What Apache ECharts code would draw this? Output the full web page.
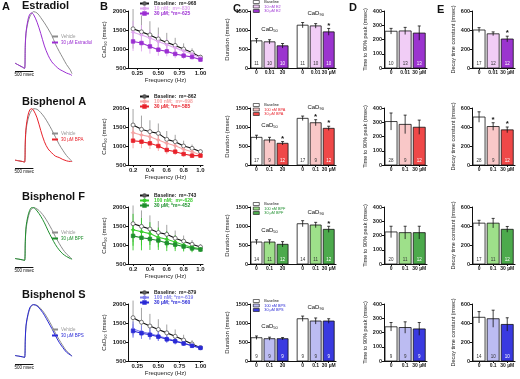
<!DOCTYPE html>
<html><head><meta charset="utf-8">
<script src="https://cdn.jsdelivr.net/npm/echarts@6/dist/echarts.min.js"></script>
<style>html,body{margin:0;padding:0;background:#fff}#c{width:520px;height:379px}</style>
</head><body><div id="c"></div>
<script>
// ---------------- DATA ----------------
const rowTitles = ['Estradiol', 'Bisphenol A', 'Bisphenol F', 'Bisphenol S'];
const panelLetters = ['A', 'B', 'C', 'D', 'E'];

// Panel A: normalized Ca transients (time in msec)
const traceTime = [0,100,200,260,280,300,350,400,450,500,600,700,800,900,1000,1100,1200,1300,1400,1500,1550];
const vehicleTrace = [
  [0.21,0.18,0.15,0.13,0.45,0.66,0.82,0.91,0.96,0.99,0.97,0.90,0.82,0.73,0.63,0.50,0.39,0.29,0.19,0.11,0.05],
  [0.21,0.20,0.19,0.18,0.45,0.66,0.82,0.91,0.96,0.99,0.98,0.93,0.86,0.77,0.67,0.56,0.45,0.36,0.28,0.22,0.19],
  [0.22,0.21,0.20,0.19,0.45,0.66,0.82,0.92,0.97,0.99,0.97,0.92,0.85,0.76,0.66,0.55,0.45,0.36,0.29,0.24,0.21],
  [0.22,0.21,0.20,0.19,0.45,0.66,0.82,0.92,0.97,0.99,0.98,0.93,0.86,0.77,0.67,0.56,0.46,0.37,0.29,0.24,0.21]
];
const drugTrace = [
  [0.21,0.18,0.15,0.13,0.50,0.68,0.86,0.95,0.97,0.95,0.83,0.66,0.47,0.33,0.23,0.17,0.12,0.09,0.06,0.04,0.02],
  [0.21,0.20,0.19,0.18,0.50,0.70,0.88,0.97,0.99,0.97,0.85,0.66,0.49,0.38,0.32,0.27,0.25,0.22,0.20,0.19,0.19],
  [0.22,0.21,0.20,0.19,0.48,0.70,0.86,0.95,0.99,0.99,0.94,0.86,0.76,0.64,0.53,0.43,0.35,0.29,0.25,0.22,0.21],
  [0.22,0.21,0.20,0.19,0.47,0.68,0.84,0.94,0.98,0.99,0.97,0.91,0.83,0.73,0.63,0.52,0.42,0.34,0.27,0.23,0.21]
];
const traceNames = [['Vehicle', '30 µM Estradiol'], ['Vehicle', '30 µM BPA'], ['Vehicle', '30 µM BPF'], ['Vehicle', '30 µM BPS']];
const scaleBarLabel = '500 msec';

// Panel B: CaD90 vs pacing frequency
const frequency = [0.2,0.3,0.4,0.5,0.6,0.7,0.8,0.9,1.0];
const freqTicks = [[0.25,0.5,0.75,1.0],[0.2,0.4,0.6,0.8,1.0],[0.2,0.4,0.6,0.8,1.0],[0.25,0.5,0.75,1.0]];
const cadBase = [
  [1531,1451,1371,1265,1174,1094,998,908,785],
  [1553,1439,1377,1333,1175,1114,1000,939,851],
  [1560,1490,1420,1330,1280,1180,1100,1020,950],
  [1640,1520,1420,1330,1240,1150,1050,950,850]
];
const cadBaseErr = [
  [520,430,360,300,250,200,150,110,60],
  [420,360,300,260,220,180,140,100,60],
  [480,420,360,300,250,200,150,110,70],
  [450,380,320,270,220,180,140,100,50]
];
const cadLow = [
  [1440,1370,1290,1200,1110,1030,950,870,770],
  [1351,1289,1246,1158,1070,1009,912,851,763],
  [1400,1350,1300,1200,1150,1080,1000,940,900],
  [1340,1270,1220,1160,1100,1030,970,910,845]
];
const cadLowErr = [
  [300,260,220,190,160,130,100,80,50],
  [250,220,190,160,130,110,90,70,40],
  [420,360,300,260,220,180,140,100,60],
  [200,170,150,130,110,90,70,60,40]
];
const cadHigh = [
  [1199,1157,1068,982,938,870,825,791,721],
  [1140,1114,1070,1000,895,851,789,746,746],
  [1240,1190,1160,1120,1050,1010,960,910,880],
  [1290,1230,1190,1140,1070,1020,960,900,845]
];
const cadHighErr = [
  [250,220,190,160,130,110,90,70,50],
  [200,170,150,130,110,90,70,60,40],
  [380,330,290,250,210,170,130,100,60],
  [180,150,130,110,90,80,60,50,40]
];
const cadLegend = [
  ['Baseline:  m=-968', '10 nM;  m=-830', '30 µM; *m=-625'],
  ['Baseline:  m=-862', '100 nM;  m=-698', '30 µM; *m=-585'],
  ['Baseline:  m=-743', '100 nM;  m=-628', '30 µM; *m=-452'],
  ['Baseline:  m=-879', '100 nM; *m=-619', '30 µM; *m=-560']
];

// Panels C, D, E: bar data  [baseline, low dose, high dose]
const doseLabels = [['0','0.01','30'],['0','0.1','30'],['0','0.1','30'],['0','0.1','30']];
const barLegend = [
  ['Baseline', '10 nM E2', '30 µM E2'],
  ['Baseline', '100 nM BPA', '30 µM BPA'],
  ['Baseline', '100 nM BPF', '30 µM BPF'],
  ['Baseline', '100 nM BPS', '30 µM BPS']
];
const cad50 = [[715,689,584],[728,658,571],[578,578,518],[613,587,587]];
const cad50Err = [[60,55,60],[55,70,45],[60,60,70],[45,40,30]];
const cad50Sig = [[0,0,0],[0,0,1],[0,0,0],[0,0,0]];
const cad90 = [[1127,1108,951],[1228,1112,965],[1060,1026,912],[1112,1052,1052]];
const cad90Err = [[70,60,90],[60,80,55],[80,70,80],[70,80,60]];
const cad90Sig = [[0,0,1],[0,1,1],[0,0,1],[0,0,0]];
const durN = [[11,10,10],[17,9,12],[14,11,12],[9,9,9]];

const ttp = [[258,260,245],[305,285,265],[225,220,220],[240,235,225]];
const ttpErr = [[20,25,50],[60,65,50],[40,45,45],[30,40,45]];
const ttpN = [[10,13,13],[28,9,12],[20,11,12],[9,9,9]];

const tau = [[400,360,305],[505,405,370],[430,430,365],[460,445,385]];
const tauErr = [[25,20,30],[55,40,30],[30,50,30],[60,90,70]];
const tauSig = [[0,0,1],[0,1,1],[0,0,0],[0,0,0]];
const tauN = [[17,12,12],[28,9,12],[17,11,12],[14,10,10]];

// ---------------- STYLE / LAYOUT ----------------
const F = 'Liberation Sans, Arial, Helvetica, sans-serif';
const rowBottom = [68, 165, 264, 361];
const plotH = 57;
const strong = ['#9b2fd2', '#e8222b', '#1f8f2e', '#2a2ad6'];
const light  = ['#dfa6ef', '#f5a3a3', '#38cc2c', '#8080ee'];
const barHigh = ['#9b34cf', '#ef4848', '#4caa4c', '#3a3ae0'];
const barLow  = ['#f1cdf6', '#f9c8c8', '#9ee08a', '#bcbcf2'];
const rowTitleTop = [0, 96, 191, 289];

const grids = [], xAxes = [], yAxes = [], series = [], legends = [], graphics = [];
function addGrid(g, x, y) {
  grids.push(g); const gi = grids.length - 1;
  x.gridIndex = gi; y.gridIndex = gi; xAxes.push(x); yAxes.push(y); return gi;
}
const axLine = { show: true, lineStyle: { color: '#111', width: 1 } };
const axTick = { show: true, length: 2, lineStyle: { color: '#111', width: 1 } };
const lbl = (fs) => ({ fontSize: fs, color: '#222', fontFamily: F, fontWeight: 'bold', margin: 2, formatter: v => String(v) });

function errRender(color) {
  return function (params, api) {
    const x = api.value(0), v = api.value(1), e = api.value(2);
    const a = api.coord([x, v - e]), b = api.coord([x, v + e]);
    return { type: 'line', shape: { x1: a[0], y1: a[1], x2: b[0], y2: b[1] }, style: { stroke: color, lineWidth: 0.9 } };
  };
}
function barRender(fill, txtColor, barW) {
  return function (params, api) {
    const x = api.value(0), v = api.value(1), e = api.value(2), n = api.value(3), sig = api.value(4);
    const p0 = api.coord([x, 0]), p1 = api.coord([x, v]);
    const pt = api.coord([x, v + e]), pb = api.coord([x, v - e]);
    const ch = [
      { type: 'rect', shape: { x: p0[0] - barW / 2, y: p1[1], width: barW, height: p0[1] - p1[1] }, style: { fill: fill, stroke: '#111', lineWidth: 0.8 } },
      { type: 'line', shape: { x1: p0[0], y1: pb[1], x2: p0[0], y2: pt[1] }, style: { stroke: '#111', lineWidth: 0.8 } },
      { type: 'line', shape: { x1: p0[0] - 1.5, y1: pt[1], x2: p0[0] + 1.5, y2: pt[1] }, style: { stroke: '#111', lineWidth: 0.8 } },
      { type: 'text', style: { text: String(n), x: p0[0], y: p0[1] - 2, align: 'center', verticalAlign: 'bottom', fontSize: 4.5, fill: txtColor, fontFamily: F } }
    ];
    if (sig) ch.push({ type: 'text', style: { text: '*', x: p0[0], y: pt[1] + 1, align: 'center', verticalAlign: 'bottom', fontSize: 8, fontWeight: 'bold', fill: '#111', fontFamily: F } });
    return { type: 'group', children: ch };
  };
}
function labelRender() {
  return function (params, api) {
    const p = api.coord([api.value(0), api.value(1)]);
    const sub = params.dataIndex === 0 ? '50' : '90';
    return { type: 'text', style: { text: 'CaD{s|' + sub + '}', x: p[0], y: p[1] - 3, align: 'center', verticalAlign: 'bottom',
      fontSize: 6, fill: '#111', fontFamily: F, rich: { s: { fontSize: 4, padding: [3, 0, 0, 0], fontFamily: F, fill: '#111' } } } };
  };
}

for (let r = 0; r < 4; r++) {
  const bot = rowBottom[r], top = bot - plotH;

  // ---- Panel A ----
  const ga = addGrid({ left: 15, width: 57, top: top, height: 66 },
    { type: 'value', min: 0, max: 1550, show: false },
    { type: 'value', min: 0, max: 1, show: false });
  series.push({ type: 'line', name: traceNames[r][0], xAxisIndex: ga, yAxisIndex: ga, showSymbol: false, symbol: 'none', smooth: 0.35,
    lineStyle: { color: '#8c8c8c', width: 1 }, itemStyle: { color: '#8c8c8c' },
    data: traceTime.map((t, i) => [t, vehicleTrace[r][i]]),
    markLine: { silent: true, symbol: 'none', lineStyle: { color: '#111', width: 1, type: 'solid' },
      label: { show: true, position: 'insideMiddleBottom', formatter: scaleBarLabel, fontSize: 4.5, color: '#111', fontFamily: F, distance: 1 },
      data: [[{ coord: [0, 0.08] }, { coord: [500, 0.08] }]] } });
  series.push({ type: 'line', name: traceNames[r][1], xAxisIndex: ga, yAxisIndex: ga, showSymbol: false, symbol: 'none', smooth: 0.35,
    lineStyle: { color: strong[r], width: 1 }, itemStyle: { color: strong[r] },
    data: traceTime.map((t, i) => [t, drugTrace[r][i]]) });
  legends.push({ orient: 'vertical', left: 52, top: top + 23, itemWidth: 6, itemHeight: 2, itemGap: 1, padding: 0,
    textStyle: { fontSize: 4.5, fontFamily: F, padding: [0, 0, 0, -2] },
    data: [{ name: traceNames[r][0], icon: 'rect', itemStyle: { color: '#8c8c8c' }, textStyle: { color: '#999' } },
           { name: traceNames[r][1], icon: 'rect', itemStyle: { color: strong[r] }, textStyle: { color: strong[r] } }] });

  // ---- Panel B ----
  const gb = addGrid({ left: 128, width: 75, top: top, height: plotH },
    { type: 'value', min: 0.14, max: 1.03, axisLine: axLine, axisTick: Object.assign({}, axTick, { customValues: freqTicks[r] }),
      axisLabel: Object.assign(lbl(6), { customValues: freqTicks[r], formatter: v => (r === 0 || r === 3) ? v.toFixed(2) : v.toFixed(1) }),
      splitLine: { show: false }, name: 'Frequency (Hz)', nameLocation: 'middle', nameGap: 9,
      nameTextStyle: { fontSize: 6, fontFamily: F, color: '#222' } },
    { type: 'value', min: 500, max: 2000, interval: 500, axisLine: axLine, axisTick: axTick, axisLabel: lbl(6), splitLine: { show: false },
      name: 'CaD{s|90} (msec)', nameLocation: 'middle', nameGap: 20,
      nameTextStyle: { fontSize: 6, fontFamily: F, color: '#222', rich: { s: { fontSize: 4, padding: [3, 0, 0, 0], fontFamily: F, color: '#222' } } } });
  const bSets = [
    { v: cadBase[r], e: cadBaseErr[r], line: '#111', err: '#9a9a9a', sym: 'circle', fill: '#fff', border: '#555', name: cadLegend[r][0] },
    { v: cadLow[r], e: cadLowErr[r], line: light[r], err: light[r], sym: 'diamond', fill: light[r], border: light[r], name: cadLegend[r][1] },
    { v: cadHigh[r], e: cadHighErr[r], line: strong[r], err: light[r], sym: 'rect', fill: strong[r], border: strong[r], name: cadLegend[r][2] }
  ];
  bSets.forEach((s, k) => {
    series.push({ type: 'custom', xAxisIndex: gb, yAxisIndex: gb, renderItem: errRender(s.err), z: 1, silent: true,
      data: frequency.map((f, i) => [f, s.v[i], s.e[i]]) });
  });
  bSets.forEach((s, k) => {
    series.push({ type: 'line', name: s.name, xAxisIndex: gb, yAxisIndex: gb, z: 3 + k, symbol: s.sym, symbolSize: k === 0 ? 4 : 3.5,
      lineStyle: { color: s.line, width: 1.1 }, itemStyle: { color: s.fill, borderColor: s.border, borderWidth: 0.8 },
      data: frequency.map((f, i) => [f, s.v[i]]) });
  });
  legends.push({ orient: 'vertical', left: 139, top: r === 0 ? 1 : top - 14, itemWidth: 9, itemHeight: 3, itemGap: 0, padding: 0,
    textStyle: { fontSize: 5, fontFamily: F, fontWeight: 'bold', lineHeight: 5 },
    data: bSets.map(s => ({ name: s.name, textStyle: { color: s === bSets[0] ? '#222' : s.line } })) });

  // ---- Panel C ----
  const cPos = [1, 2, 3, 4.54, 5.54, 6.54];
  const cLabels = doseLabels[r].concat(doseLabels[r].slice(0, 2), [doseLabels[r][2] + ' µM']);
  const gc = addGrid({ left: 250, width: 86, top: top, height: plotH },
    { type: 'value', min: 0.5, max: 7.1, axisLine: axLine, axisTick: Object.assign({}, axTick, { customValues: cPos }),
      axisLabel: Object.assign(lbl(5), { customValues: cPos, formatter: v => cLabels[cPos.findIndex(p => Math.abs(p - v) < 1e-6)] }),
      splitLine: { show: false } },
    { type: 'value', min: 0, max: 1500, interval: 500, axisLine: axLine, axisTick: axTick, axisLabel: lbl(5.5), splitLine: { show: false },
      name: 'Duration (msec)', nameLocation: 'middle', nameGap: 20, nameTextStyle: { fontSize: 6, fontFamily: F, color: '#222' } });
  const fills = ['#ffffff', barLow[r], barHigh[r]];
  const txtC = ['#333', '#333', '#fff'];
  for (let k = 0; k < 3; k++) {
    series.push({ type: 'custom', name: barLegend[r][k], xAxisIndex: gc, yAxisIndex: gc, itemStyle: { color: fills[k], borderColor: '#111' },
      renderItem: barRender(fills[k], txtC[k], 11), silent: true,
      data: [[cPos[k], cad50[r][k], cad50Err[r][k], durN[r][k], cad50Sig[r][k]],
             [cPos[k + 3], cad90[r][k], cad90Err[r][k], durN[r][k], cad90Sig[r][k]]] });
  }
  const top50 = Math.max(...cad50[r].map((v, i) => v + cad50Err[r][i]));
  const top90 = Math.max(...cad90[r].map((v, i) => v + cad90Err[r][i]));
  series.push({ type: 'custom', xAxisIndex: gc, yAxisIndex: gc, renderItem: labelRender(), silent: true,
    data: [[cPos[1], top50 + 80], [cPos[4], top90 + 60]] });
  legends.push({ orient: 'vertical', left: 253, top: r === 0 ? 0 : top - 5, itemWidth: 6, itemHeight: 3, itemGap: 0.5, padding: 0,
    textStyle: { fontSize: 3.8, fontFamily: F, lineHeight: 4 },
    data: barLegend[r].map((n, k) => ({ name: n, icon: 'rect', itemStyle: { color: fills[k], borderColor: '#111', borderWidth: 0.6 },
      textStyle: { color: k === 0 ? '#222' : strong[r] } })) });

  // ---- Panels D, E ----
  const dPos = [1, 2, 3];
  const dLabels = [doseLabels[r][0], doseLabels[r][1], doseLabels[r][2] + ' µM'];
  const mk = (left, max, interval, name, vals, errs, ns, sigs, nameGap) => {
    const g = addGrid({ left: left, width: 43, top: top, height: plotH },
      { type: 'value', min: 0.5, max: 3.55, axisLine: axLine, axisTick: Object.assign({}, axTick, { customValues: dPos }),
        axisLabel: Object.assign(lbl(5), { customValues: dPos, formatter: v => dLabels[Math.round(v) - 1] }), splitLine: { show: false } },
      { type: 'value', min: 0, max: max, interval: interval, axisLine: axLine, axisTick: axTick, axisLabel: lbl(5.5), splitLine: { show: false },
        name: name, nameLocation: 'middle', nameGap: nameGap, nameTextStyle: { fontSize: 5.5, fontFamily: F, color: '#222' } });
    for (let k = 0; k < 3; k++) {
      series.push({ type: 'custom', xAxisIndex: g, yAxisIndex: g, renderItem: barRender(fills[k], txtC[k], 12), silent: true,
        data: [[dPos[k], vals[k], errs[k], ns[k], sigs ? sigs[k] : 0]] });
    }
  };
  mk(384, 400, 100, 'Time to 90% peak (msec)', ttp[r], ttpErr[r], ttpN[r], null, 16);
  mk(472, 600, 200, 'Decay time constant (msec)', tau[r], tauErr[r], tauN[r], tauSig[r], 16);

  graphics.push({ type: 'text', left: 22, top: rowTitleTop[r], style: { text: rowTitles[r], fontSize: 11, fontWeight: 'bold', fontFamily: F, fill: '#111' } });
}
[[2, 1], [100, 1], [233, 3], [349, 2], [437, 4]].forEach((p, i) => {
  graphics.push({ type: 'text', left: p[0], top: p[1], style: { text: panelLetters[i], fontSize: 11, fontWeight: 'bold', fontFamily: F, fill: '#111' } });
});

const chart = echarts.init(document.getElementById('c'), null, { renderer: 'canvas' });
chart.setOption({
  animation: false,
  backgroundColor: '#fff',
  textStyle: { fontFamily: F },
  grid: grids, xAxis: xAxes, yAxis: yAxes, series: series, legend: legends, graphic: graphics
});
</script></body></html>
